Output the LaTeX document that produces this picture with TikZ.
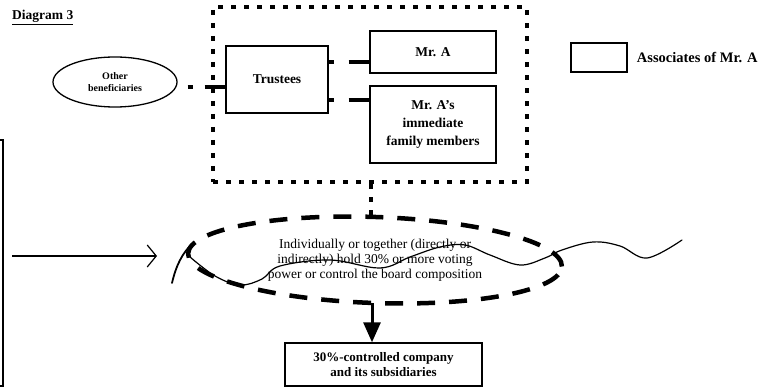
\documentclass[tikz,border=0pt]{standalone}
\usepackage{fontspec}
\setmainfont{Liberation Serif}
\usetikzlibrary{arrows.meta,shapes.geometric,calc}
\begin{document}
\begin{tikzpicture}[x=1pt,y=-1pt,
  box/.style={draw,line width=1.4pt,inner sep=0pt,align=center,
    font=\bfseries\fontsize{13.5}{18}\selectfont},
  squaredots/.style={line width=4.5pt,dash pattern=on 5pt off 8pt},
  bigdash/.style={line width=4.5pt,dash pattern=on 18pt off 14pt},
  linkline/.style={line width=4pt},
  wave/.style={line width=1.2pt,line cap=round,line join=round}]
\useasboundingbox (0,0) rectangle (766,387);

% title
\node[anchor=base west,inner sep=0pt,font=\bfseries\fontsize{13.5}{16}\selectfont]
  (title) at (12,20) {\underline{Diagram 3}};

% group of associates
\node[draw,squaredots,minimum width=314pt,minimum height=175pt,inner sep=0pt]
  (grp) at (370,94.5) {};
\node[box,minimum width=102pt,minimum height=67pt] (trustees) at (277,79.5) {Trustees};
\node[box,minimum width=126pt,minimum height=42pt] (mra) at (433,52) {Mr. A};
\node[box,minimum width=126pt,minimum height=77pt] (mrafam) at (433,124.5)
  {Mr. A's\\immediate\\family members};

\node[draw,ellipse,line width=1.3pt,minimum width=124pt,minimum height=50pt,inner sep=0pt,
  align=center,font=\bfseries\fontsize{10}{12}\selectfont] (other) at (115,82)
  {Other\\beneficiaries};

% links between the members
\draw[linkline,dash pattern=on 0pt off 10pt on 5pt off 12pt on 30pt]
  ($(other.east)+(0,5)$) -- ($(other.east -| trustees.west)+(0,5)$);
\draw[linkline,dash pattern=on 5pt off 15pt on 30pt]
  (trustees.east |- 0,62) -- (mra.west |- 0,62);
\draw[linkline,dash pattern=on 5pt off 15pt on 30pt]
  (trustees.east |- 0,100) -- (mrafam.west |- 0,100);

% legend
\node[draw,line width=1.4pt,minimum width=56pt,minimum height=29pt,inner sep=0pt]
  (legend) at (599,57.5) {};
\node[anchor=west,inner sep=0pt,font=\bfseries\fontsize{14.5}{16}\selectfont]
  (legendtext) at ($(legend.east)+(9,0)$) {Associates of Mr. A};

% control condition
\node[ellipse,minimum width=374pt,minimum height=86pt,inner sep=0pt,
  align=center,font=\fontsize{13.5}{15}\selectfont] (cond) at (375,260)
  {Individually or together (directly or\\indirectly) hold 30\% or more voting\\power or control the board composition};
\draw[bigdash,rotate around={-2:(cond.center)}]
  (cond.center) ellipse [x radius=187pt,y radius=43pt];
\draw[squaredots] (grp.south -| 371,0) -- (cond.north -| 371,0);

% resulting company
\node[box,minimum width=197pt,minimum height=43pt,font=\bfseries\fontsize{13}{15}\selectfont]
  (company) at (383.5,364.5) {30\%-controlled company\\and its subsidiaries};
\draw[line width=3pt,-{Triangle[length=20pt,width=17pt]}] (cond.south -| 372,0) -- (company.north -| 372,0);

% box partly outside the frame, with an arrow into the condition
\node[draw,line width=1.2pt,minimum width=40pt,minimum height=246pt,inner sep=0pt]
  (leftbox) at (-17,263) {};
\coordinate (arrowstart) at (12,256);
\coordinate (arrowend) at (157,256);
\draw[line width=1.2pt,-{Straight Barb[length=9pt,width=22pt,line width=1.2pt]}]
  (arrowstart) -- (arrowend);

% wavy cut line
\draw[wave,line width=1.8pt] (172,283) .. controls (176,266) and (182,253) .. (193,243);
\draw[wave] plot[smooth,tension=0.6] coordinates {
  (190,257) (215,276) (240,285) (262,279) (280,266) (330,260) (380,268)
  (410,257) (440,247) (465,245) (490,255) (520,265) (545,258) (562,250)
  (593,242) (620,246) (647,258) (682,240)};
\end{tikzpicture}
\end{document}
